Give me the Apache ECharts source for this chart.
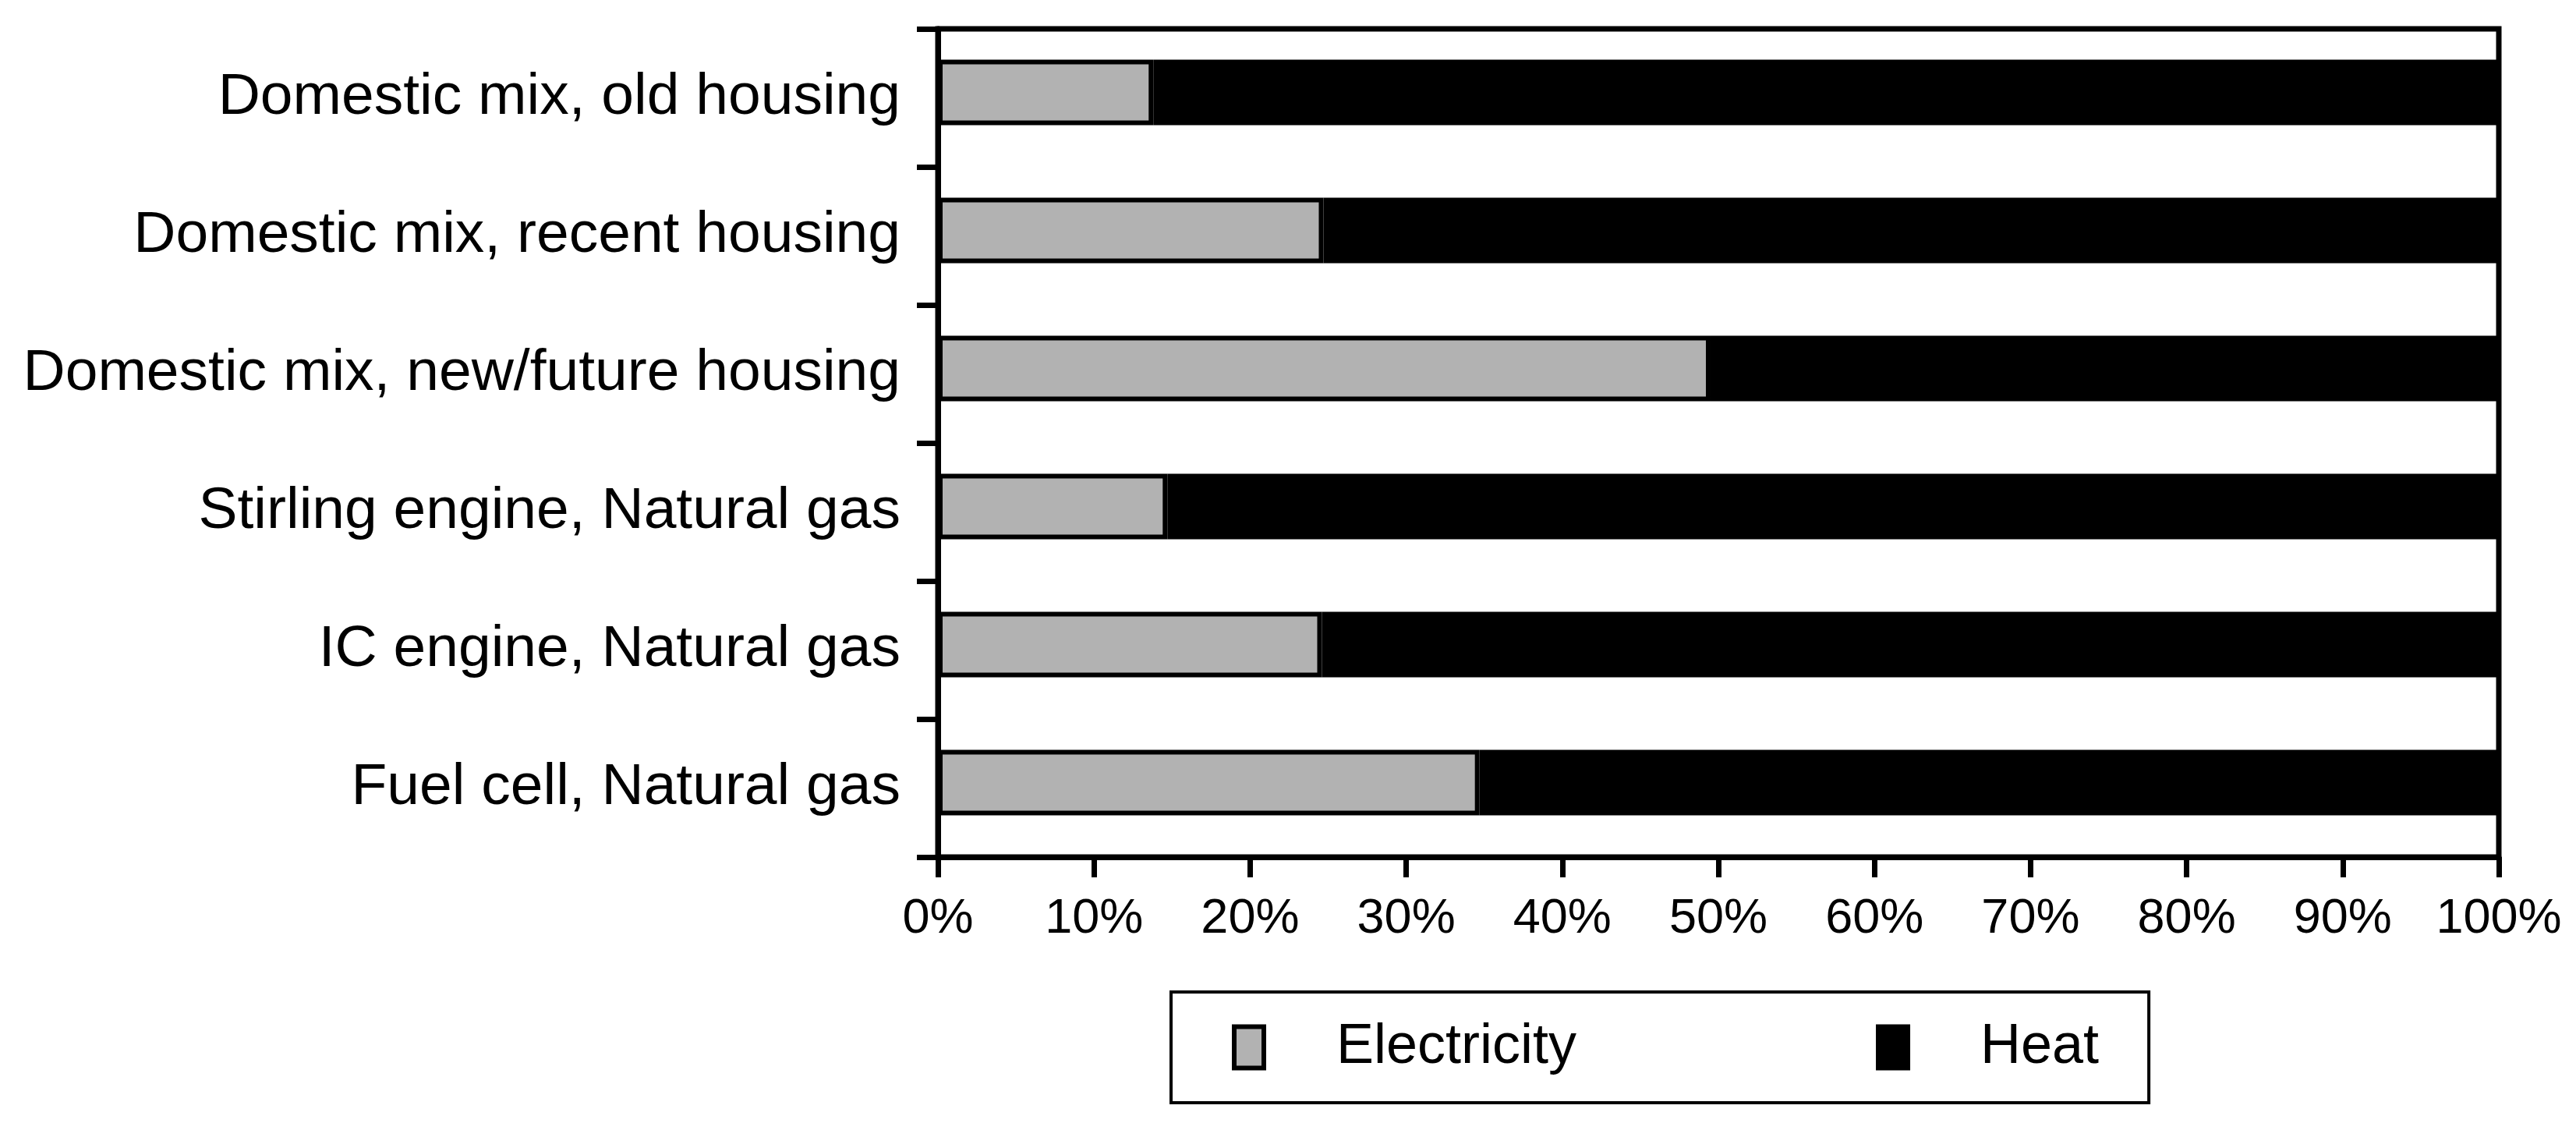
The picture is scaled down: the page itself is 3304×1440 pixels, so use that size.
<!DOCTYPE html>
<html>
<head>
<meta charset="utf-8">
<script src="https://cdn.jsdelivr.net/npm/echarts@6/dist/echarts.min.js"></script>
<style>
html,body{margin:0;padding:0;background:#fff;}
#chart{width:3304px;height:1440px;}
</style>
</head>
<body>
<div id="chart"></div>
<script>
const categories = [
  "Domestic mix, old housing",
  "Domestic mix, recent housing",
  "Domestic mix, new/future housing",
  "Stirling engine, Natural gas",
  "IC engine, Natural gas",
  "Fuel cell, Natural gas"
];
const electricity = [13.8, 24.7, 49.5, 14.7, 24.6, 34.7];
const heat = [86.2, 75.3, 50.5, 85.3, 75.4, 65.3];
const xTicks = [0, 10, 20, 30, 40, 50, 60, 70, 80, 90, 100];

const FONT = "'Liberation Sans', Arial, Helvetica, sans-serif";
const chart = echarts.init(document.getElementById('chart'));
chart.setOption({
  backgroundColor: '#ffffff',
  animation: false,
  textStyle: { fontFamily: FONT },
  grid: [
    {
      left: 1203, right: 99, top: 37, bottom: 341,
      show: true, borderColor: '#000', borderWidth: 7, backgroundColor: 'transparent'
    },
    { left: 1203, right: 99, top: 30, bottom: 348, show: false }
  ],
  legend: {
    left: 1502, top: 1272,
    orient: 'horizontal',
    padding: [35, 64, 35, 78],
    itemGap: 384,
    itemWidth: 38, itemHeight: 53,
    borderColor: '#000', borderWidth: 4,
    textStyle: { fontSize: 72, color: '#000', fontFamily: FONT, padding: [0, 0, 0, 88] },
    data: [
      { name: 'Electricity', icon: 'rect', itemStyle: { color: '#b2b2b2', borderColor: '#000', borderWidth: 6 } },
      { name: 'Heat', icon: 'rect', itemStyle: { color: '#000', borderColor: '#000', borderWidth: 6 } }
    ]
  },
  xAxis: [
    {
      type: 'value', min: 0, max: 100, interval: 10, gridIndex: 0,
      axisLine: { show: true, lineStyle: { color: '#000', width: 7 } },
      axisTick: { show: true, length: 26, lineStyle: { color: '#000', width: 7 } },
      splitLine: { show: false },
      axisLabel: {
        fontSize: 63, color: '#000', fontFamily: FONT, margin: 48,
        formatter: function (v) { return xTicks.indexOf(v) >= 0 ? v + '%' : ''; }
      }
    },
    {
      type: 'value', min: 0, max: 100, interval: 10, gridIndex: 1, show: false
    }
  ],
  yAxis: [
    {
      type: 'category', inverse: true, data: categories, gridIndex: 0,
      axisLine: { show: true, lineStyle: { color: '#000', width: 7 } },
      axisTick: { show: true, length: 27, alignWithLabel: false, lineStyle: { color: '#000', width: 7 } },
      axisLabel: { fontSize: 75, color: '#000', fontFamily: FONT, margin: 48 }
    },
    {
      type: 'category', inverse: true, data: categories, gridIndex: 1, show: false
    }
  ],
  series: [
    {
      name: 'Electricity', type: 'bar', stack: 'total', data: electricity,
      xAxisIndex: 1, yAxisIndex: 1,
      barWidth: 84,
      itemStyle: { color: '#b2b2b2', borderColor: '#000', borderWidth: 6 }
    },
    {
      name: 'Heat', type: 'bar', stack: 'total', data: heat,
      xAxisIndex: 1, yAxisIndex: 1,
      barWidth: 84,
      itemStyle: { color: '#000', borderColor: '#000', borderWidth: 6 }
    }
  ]
});
</script>
</body>
</html>
